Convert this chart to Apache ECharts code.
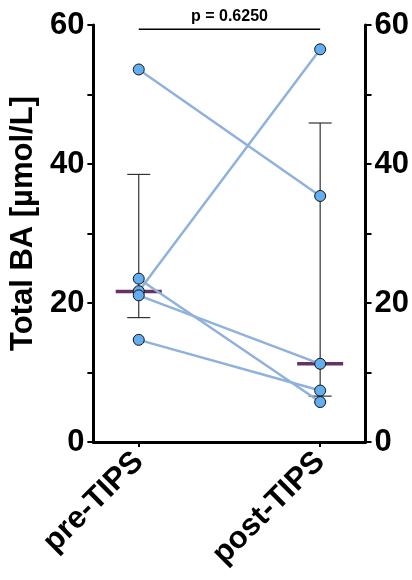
<!DOCTYPE html>
<html>
<head>
<meta charset="utf-8">
<script src="https://cdn.jsdelivr.net/npm/echarts@6/dist/echarts.min.js"></script>
<style>html,body{margin:0;padding:0;background:#fff}#c{width:412px;height:580px}</style>
</head>
<body>
<div id="c"></div>
<script>
var categories = ['pre-TIPS', 'post-TIPS'];
var preValues = [53.6, 21.7, 23.5, 21.1, 14.7];
var postValues = [35.4, 56.5, 5.75, 11.25, 7.4];
var medians = [21.65, 11.25];
var errLow = [17.9, 6.6];
var errHigh = [38.5, 45.9];
var yTicks = [0, 20, 40, 60];
var pText = 'p = 0.6250';
var sigY = 59.4;

var FONT = '"Liberation Sans", Arial, sans-serif';
var chart = echarts.init(document.getElementById('c'), null, {renderer: 'canvas'});

var pairSeries = preValues.map(function (v, i) {
  return {
    type: 'line',
    data: [[0, v], [1, postValues[i]]],
    symbol: 'circle',
    symbolSize: 11,
    lineStyle: {color: '#8fb1dc', width: 2.5},
    itemStyle: {color: '#63aef0', borderColor: '#111', borderWidth: 1},
    z: 5,
    silent: true
  };
});

var errData = categories.map(function (c, i) { return [i, errLow[i], errHigh[i]]; });

var yAxisCommon = {
  type: 'value', min: yTicks[0], max: yTicks[yTicks.length - 1], interval: 20,
  axisLine: {show: true, onZero: false, lineStyle: {color: '#000', width: 3}},
  axisTick: {show: true, length: 6, lineStyle: {color: '#000', width: 2}},
  minorTick: {show: true, splitNumber: 2, length: 6, lineStyle: {color: '#000', width: 2}},
  splitLine: {show: false},
  axisLabel: {color: '#000', fontSize: 31, fontWeight: 'bold', fontFamily: FONT, margin: 9}
};

chart.setOption({
  animation: false,
  grid: {left: 91, right: 44, top: 25, bottom: 138},
  xAxis: {
    type: 'value', min: -0.25, max: 1.25,
    axisLine: {show: true, onZero: false, lineStyle: {color: '#000', width: 3}},
    axisTick: {show: true, length: 5, lineStyle: {color: '#000', width: 2}, customValues: [0, 1]},
    splitLine: {show: false},
    axisLabel: {
      customValues: [0, 1], rotate: 45, margin: 15,
      color: '#000', fontSize: 31, fontWeight: 'bold', fontFamily: FONT,
      formatter: function (v) { return categories[Math.round(v)]; }
    }
  },
  yAxis: [
    Object.assign({}, yAxisCommon, {
      position: 'left',
      name: 'Total BA [µmol/L]', nameLocation: 'middle', nameGap: 52,
      nameTextStyle: {color: '#000', fontSize: 31, fontWeight: 'bold', fontFamily: FONT, padding: [0, 0, 0, 20]}
    }),
    Object.assign({}, yAxisCommon, {position: 'right'})
  ],
  series: [
    {
      type: 'custom',
      data: errData,
      z: 2,
      silent: true,
      renderItem: function (params, api) {
        var x = api.value(0);
        var lo = api.coord([x, api.value(1)]);
        var hi = api.coord([x, api.value(2)]);
        var cap = 11.5;
        var style = {stroke: '#333', lineWidth: 1.2};
        return {
          type: 'group',
          children: [
            {type: 'line', shape: {x1: lo[0], y1: lo[1], x2: hi[0], y2: hi[1]}, style: style},
            {type: 'line', shape: {x1: lo[0] - cap, y1: lo[1], x2: lo[0] + cap, y2: lo[1]}, style: style},
            {type: 'line', shape: {x1: hi[0] - cap, y1: hi[1], x2: hi[0] + cap, y2: hi[1]}, style: style}
          ]
        };
      }
    }
  ].concat(pairSeries).concat([
    {
      type: 'scatter',
      data: medians.map(function (m, i) { return [i, m]; }),
      symbol: 'rect',
      symbolSize: [46, 3.5],
      itemStyle: {color: '#3d003d'},
      z: 4,
      silent: true
    },
    {
      type: 'custom',
      data: [[0, 1, sigY]],
      silent: true,
      z: 6,
      renderItem: function (params, api) {
        var a = api.coord([api.value(0), api.value(2)]);
        var b = api.coord([api.value(1), api.value(2)]);
        return {
          type: 'group',
          children: [
            {type: 'line', shape: {x1: a[0], y1: a[1], x2: b[0], y2: b[1]}, style: {stroke: '#000', lineWidth: 1.5}},
            {type: 'text', style: {x: (a[0] + b[0]) / 2, y: a[1] - 5, text: pText, fill: '#000',
              font: 'bold 16px ' + FONT, textAlign: 'center', textVerticalAlign: 'bottom'}}
          ]
        };
      }
    }
  ])
});
</script>
</body>
</html>
